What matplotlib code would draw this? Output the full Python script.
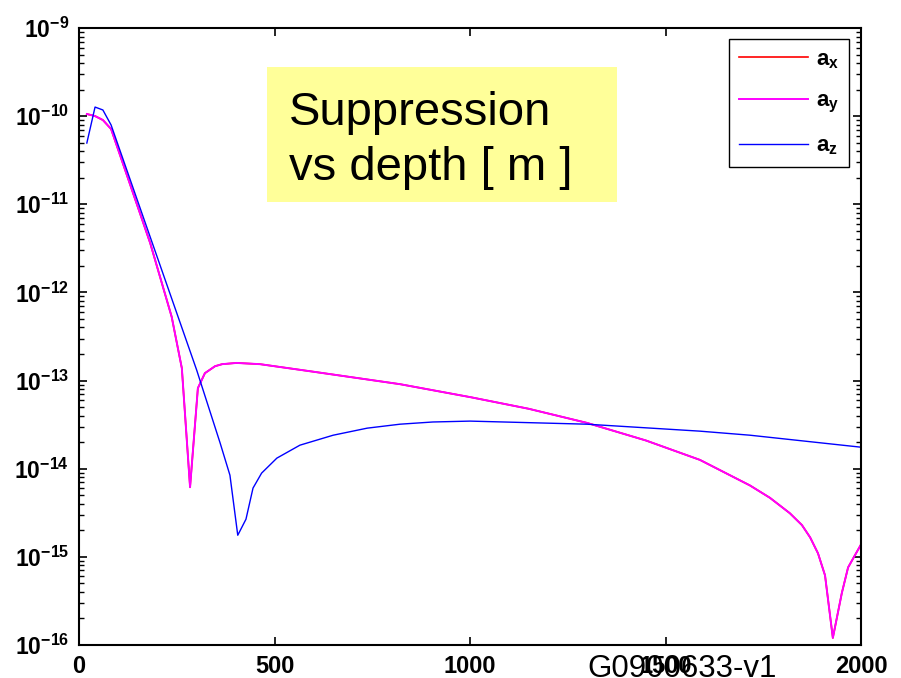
import numpy as np
import matplotlib
matplotlib.use('Agg')
import matplotlib.pyplot as plt
from matplotlib.patches import Rectangle

plt.rcParams['font.family'] = ['Liberation Sans', 'DejaVu Sans']
plt.rcParams['mathtext.fontset'] = 'custom'
plt.rcParams['mathtext.rm'] = 'Liberation Sans'
plt.rcParams['mathtext.bf'] = 'Liberation Sans:bold'
plt.rcParams['mathtext.it'] = 'Liberation Sans:italic'

# depth [m] and log10 of suppression
depth_xy = [20, 41, 61, 82, 182, 237, 263, 284, 304, 322, 348, 366, 403, 463,
            600, 821, 1003, 1150, 1299, 1450, 1588, 1716, 1767, 1818, 1849,
            1870, 1890, 1908, 1928, 1951, 1967, 2000]
log_xy = [-9.976, -9.999, -10.044, -10.146, -11.44, -12.277, -12.86, -14.21,
          -13.086, -12.916, -12.837, -12.814, -12.80, -12.814,
          -12.90, -13.041, -13.19, -13.32, -13.48, -13.68, -13.90, -14.19,
          -14.33, -14.505, -14.64, -14.78, -14.96, -15.21, -15.92, -15.41,
          -15.12, -14.86]

depth_z = [20, 41, 61, 82, 301, 361, 386, 406, 427, 445, 467, 506, 565, 650,
           737, 821, 905, 1000, 1077, 1299, 1588, 1716, 2000]
log_z = [-10.305, -9.897, -9.93, -10.10, -12.882, -13.71, -14.074, -14.755,
         -14.573, -14.22, -14.05, -13.88, -13.733, -13.62, -13.54, -13.495,
         -13.47, -13.46, -13.469, -13.495, -13.574, -13.62, -13.756]

a_x = 10.0 ** np.array(log_xy)
a_y = 10.0 ** np.array(log_xy)
a_z = 10.0 ** np.array(log_z)

xticks = [0, 500, 1000, 1500, 2000]
decades = list(range(-16, -8))

fig = plt.figure(figsize=(9.01, 6.78), dpi=100)
ax = fig.add_axes([0.0877, 0.0487, 0.8679, 0.91])

ax.plot(depth_xy, a_x, color='#ff0000', lw=1.2, label=r'$\mathbf{a}_{\mathbf{x}}$')
ax.plot(depth_xy, a_y, color='#ff00ff', lw=1.4, label=r'$\mathbf{a}_{\mathbf{y}}$')
ax.plot(depth_z, a_z, color='#0000ff', lw=1.0, label=r'$\mathbf{a}_{\mathbf{z}}$')

ax.set_yscale('log')
ax.set_xlim(0, 2000)
ax.set_ylim(1e-16, 1e-9)
ax.set_xticks(xticks)
ax.set_xticklabels([str(v) for v in xticks], fontsize=17, fontweight='bold')
ax.set_yticks([10.0 ** d for d in decades])
ax.set_yticklabels([r'$\mathbf{10^{%d}}$' % d for d in decades], fontsize=16.5)
ax.tick_params(which='both', direction='in', top=True, right=True)
ax.tick_params(which='major', length=5.5, width=1.2, pad=7)
ax.tick_params(which='minor', length=3.6, width=1.0)
ax.tick_params(axis='x', which='minor', bottom=False, top=False)
for s in ax.spines.values():
    s.set_linewidth(1.5)

leg = ax.legend(loc='upper right', bbox_to_anchor=(0.985, 0.982), fontsize=16,
                frameon=True, fancybox=False, edgecolor='black', framealpha=1,
                handlelength=3.1, handletextpad=0.35, borderpad=0.45,
                labelspacing=0.9, borderaxespad=0)
leg.get_frame().set_linewidth(1.0)

# yellow note box
ax.add_patch(Rectangle((0.2408, 0.7185), 0.4476, 0.2188, transform=ax.transAxes,
                       facecolor='#ffff99', edgecolor='none', zorder=1))
ax.text(0.269, 0.8428, 'Suppression', transform=ax.transAxes, fontsize=34,
        va='baseline', ha='left', zorder=2)
ax.text(0.269, 0.7536, 'vs depth [ m ]', transform=ax.transAxes, fontsize=34,
        va='baseline', ha='left', zorder=2)

fig.text(587 / 901, 1 - 677 / 678, 'G0900633-v1', fontsize=22.5,
         va='baseline', ha='left')

fig.savefig('out.png', dpi=100)
